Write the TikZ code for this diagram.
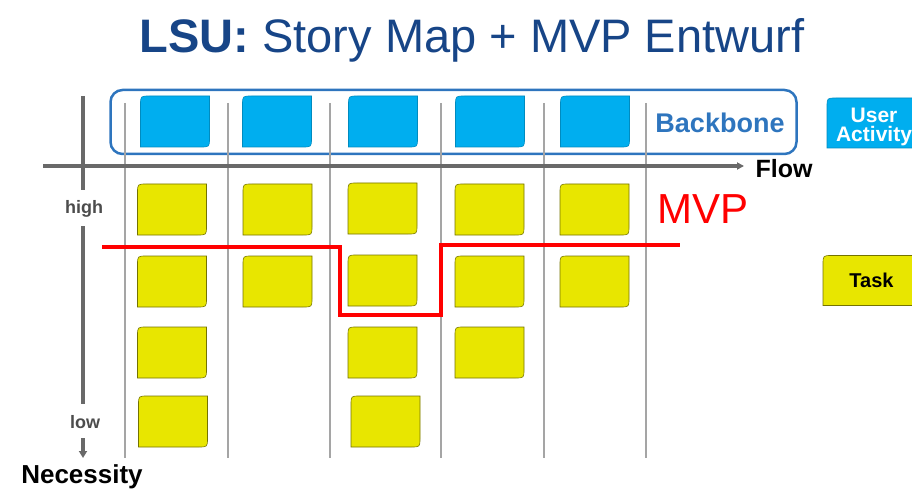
\documentclass[tikz,border=0pt]{standalone}
\usepackage{fontspec}
\setmainfont{Liberation Sans}
\usetikzlibrary{arrows.meta}

\definecolor{titleblue}{RGB}{23,69,135}
\definecolor{bbblue}{RGB}{46,117,190}
\definecolor{actcyan}{RGB}{0,174,239}
\definecolor{taskyellow}{RGB}{232,230,0}
\definecolor{axisgray}{RGB}{105,105,105}
\definecolor{gridgray}{RGB}{165,165,165}
\definecolor{mvpred}{RGB}{255,0,0}

\def\fs#1{\fontsize{#1}{#1}\selectfont}

% a card: top left and bottom right corner rounded
\newcommand\storycard[4][]{%
  \node [cardbox,#1] (#2) at (#3) {};
  \draw [#4] ([yshift=-9pt]#2.north west) .. controls (#2.north west) .. ([xshift=9pt]#2.north west)
    -- (#2.north east) -- ([yshift=9pt]#2.south east) .. controls (#2.south east) .. ([xshift=-9pt]#2.south east)
    -- (#2.south west) -- cycle;
}

\tikzset{
  cardbox/.style={minimum width=69pt, minimum height=51pt, inner sep=0pt, outer sep=0pt},
  actcard/.style={fill=actcyan, draw=actcyan!80!black, line width=0.6pt},
  taskcard/.style={fill=taskyellow, draw=taskyellow!50!black, line width=0.6pt},
  axis/.style={axisgray, line width=3.5pt},
  gridline/.style={gridgray, line width=1.2pt},
  axislabel/.style={anchor=base, inner sep=0pt, font=\bfseries\fs{18}, text=black!70},
  mvpline/.style={mvpred, line width=3.5pt},
}

\begin{document}
\begin{tikzpicture}[x=1pt, y=-1pt]
\useasboundingbox (0,0) rectangle (912,489);
\clip (0,0) rectangle (912,489);

\node [anchor=base, inner sep=0pt, text=titleblue, font=\fs{47}] (title) at (472,53)
  {\textbf{LSU:} Story Map + MVP Entwurf};

% backbone frame
\node [draw=bbblue, line width=2.5pt, rounded corners=12pt,
  minimum width=686pt, minimum height=64pt] (backbone) at (453.5,122) {};
\node [anchor=base, inner sep=0pt, font=\bfseries\fs{27}, text=bbblue] (backbone-label) at (720,133) {Backbone};

% columns
\foreach \x in {125,228,330,441,544,646}
  \draw [gridline] (\x,103) -- (\x,458);

% axes
\coordinate (flow-start) at (43,166);
\coordinate (flow-end) at (744,166);
\draw [axis, -{Triangle[length=7pt,width=7pt]}] (flow-start) -- (flow-end);

\coordinate (nec-top) at (83,96);
\coordinate (nec-high) at (83,190);
\coordinate (nec-mid) at (83,226);
\coordinate (nec-low) at (83,404);
\coordinate (nec-stub) at (83,438);
\coordinate (nec-end) at (83,458);
\draw [axis] (nec-top) -- (nec-high);
\draw [axis] (nec-mid) -- (nec-low);
\draw [axis, -{Triangle[length=7pt,width=8pt]}] (nec-stub) -- (nec-end);

\node [axislabel] (high) at (84,213) {high};
\node [axislabel] (low) at (85,428) {low};
\node [anchor=base, inner sep=0pt, font=\bfseries\fs{26}] (necessity) at (82,483) {Necessity};
\node [anchor=base, inner sep=0pt, font=\bfseries\fs{25}] (flow) at (784,178) {Flow};

% user activities
\storycard{act-1}{175,121.5}{actcard}
\storycard{act-2}{277,121.5}{actcard}
\storycard{act-3}{383,121.5}{actcard}
\storycard{act-4}{490,121.5}{actcard}
\storycard{act-5}{595,121.5}{actcard}

% tasks
\storycard{task-11}{172,209.5}{taskcard}
\storycard{task-12}{172,281.5}{taskcard}
\storycard{task-13}{172,352.5}{taskcard}
\storycard{task-14}{173,421.5}{taskcard}
\storycard{task-21}{277.5,209.5}{taskcard}
\storycard{task-22}{277.5,281.5}{taskcard}
\storycard{task-31}{382.5,208.5}{taskcard}
\storycard{task-32}{382.5,280.5}{taskcard}
\storycard{task-33}{382.5,352.5}{taskcard}
\storycard{task-34}{385.5,421.5}{taskcard}
\storycard{task-41}{489.5,209.5}{taskcard}
\storycard{task-42}{489.5,281.5}{taskcard}
\storycard{task-43}{489.5,352.5}{taskcard}
\storycard{task-51}{594.5,209.5}{taskcard}
\storycard{task-52}{594.5,281.5}{taskcard}

% MVP cut
\draw [mvpline] (102,247) -- (340,247) -- (340,315) -- (441,315) -- (441,245) -- (680,245);
\node [anchor=base, inner sep=0pt, font=\fs{42}, text=mvpred] (mvp) at (703,223) {MVP};

% legend
\storycard[minimum width=100pt, minimum height=50pt]{user-activity}{877,123}{actcard}
\node [inner sep=0pt, align=center, font=\bfseries\fontsize{21}{19}\selectfont, text=white]
  (user-activity-text) at (874,127) {User\\Activity};
\storycard[minimum width=102pt, minimum height=50pt]{task}{874,280.5}{taskcard}
\node [anchor=base, inner sep=0pt, font=\bfseries\fs{20}] (task-text) at (871.5,287) {Task};
\end{tikzpicture}
\end{document}
